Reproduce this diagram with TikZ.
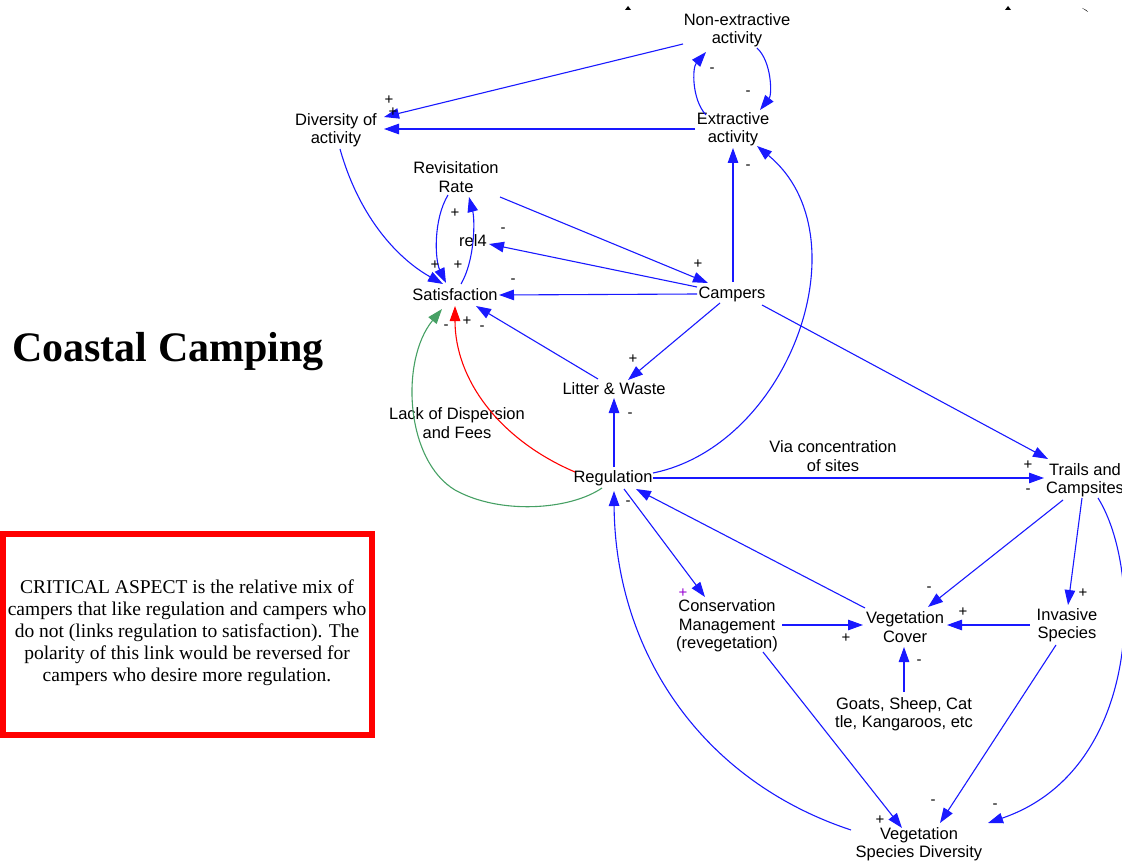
\documentclass[tikz,border=0pt]{standalone}
\usepackage{fontspec}
\setmainfont{Liberation Sans}
\newfontfamily\serifm{Liberation Serif}
\usetikzlibrary{arrows.meta}
\definecolor{lnkblue}{RGB}{25,25,255}
\definecolor{grnl}{RGB}{70,160,100}
\definecolor{purp}{RGB}{150,0,210}
\begin{document}
\begin{tikzpicture}[x=1pt,y=-1pt,
  lbl/.style={font=\fontsize{16.5}{18.5}\selectfont, align=center, inner sep=0pt, text=black},
  sgn/.style={font=\fontsize{15}{15}\selectfont, inner sep=0pt},
  lnk/.style={draw=lnkblue, line width=1.1pt, -{Triangle[length=15pt,width=10.5pt]}},
  rdl/.style={lnk, draw=red},
  gnl/.style={lnk, draw=grnl}]
\useasboundingbox (0,0) rectangle (1122,861);

% nodes
\node[lbl] (nonext) at (737,30) {Non-extractive\\activity};
\node[lbl] (ext) at (733,129) {Extractive\\activity};
\node[lbl] (div) at (336,130) {Diversity of\\activity};
\node[lbl] (rev) at (456,177) {Revisitation\\Rate};
\node[lbl] (rel) at (473,241) {rel4};
\node[lbl] (sat) at (455,295) {Satisfaction};
\node[lbl] (camp) at (732,294) {Campers};
\node[lbl] (litter) at (614,389) {Litter \& Waste};
\node[lbl] (reg) at (613,478) {Regulation};
\node[lbl] (lack) at (457,423) {Lack of Dispersion\\and Fees};
\node[lbl] (via) at (833,456) {Via concentration\\of sites};
\node[lbl] (trails) at (1085,480) {Trails and\\Campsites};
\node[lbl] (cons) at (727,626) {Conservation\\Management\\(revegetation)};
\node[lbl] (vegc) at (905,627) {Vegetation\\Cover};
\node[lbl] (inv) at (1067,625) {Invasive\\Species};
\node[lbl] (goats) at (904,714) {Goats, Sheep, Cat\\tle, Kangaroos, etc};
\node[lbl] (vsd) at (919,844) {Vegetation\\Species Diversity};

\node[font=\serifm\bfseries\fontsize{42}{42}\selectfont, inner sep=0pt] (title) at (168,352) {Coastal Camping};
\node[draw=red, line width=6pt, minimum width=369pt, minimum height=201pt, inner sep=0pt] (box) at (187.5,634.5) {};
\node[font=\serifm\fontsize{19.5}{22}\selectfont, align=center, inner sep=0pt] (crit) at (187,633) {CRITICAL ASPECT is the relative mix of\\campers that like regulation and campers who\\do not (links regulation to satisfaction). The\\polarity of this link would be reversed for\\campers who desire more regulation.};

% small marks at top edge
\fill (625,10) -- (628,6) -- (631,10) -- cycle;
\fill (1005,10) -- (1008,6) -- (1011,10) -- cycle;
\fill (1082,8) -- (1086,10) -- (1088,12) -- cycle;

% connectors
\draw[lnk] ([shift={(-54,14)}]nonext.center) -- ([shift={(48,-13)}]div.center);
\draw[lnk] ([shift={(-38,0)}]ext.center) -- ([shift={(48,-1)}]div.center);
\draw[lnk] ([shift={(-27,-14)}]ext.center) .. controls (692,100) and (692,68) .. ([shift={(-31,22)}]nonext.center);
\draw[lnk] ([shift={(20,18)}]nonext.center) .. controls (772,62) and (772,95) .. ([shift={(27,-19)}]ext.center);
\draw[lnk] ([shift={(1,-12)}]camp.center) -- ([shift={(0,19)}]ext.center);
\draw[lnk] ([shift={(40,-5)}]reg.center) .. controls (790,445) and (865,235) .. ([shift={(24,17)}]ext.center);
\draw[lnk] ([shift={(4,19)}]div.center) .. controls (360,220) and (400,260) .. ([shift={(-12,-11)}]sat.center);
\draw[lnk] ([shift={(-8,18)}]rev.center) .. controls (433,220) and (435,260) .. ([shift={(-9,-12)}]sat.center);
\draw[lnk] ([shift={(6,-11)}]sat.center) .. controls (475,260) and (475,220) .. ([shift={(13,20)}]rev.center);
\draw[lnk] ([shift={(-35,-7)}]camp.center) -- ([shift={(16,3)}]rel.center);
\draw[lnk] ([shift={(44,20)}]rev.center) -- ([shift={(-24,-11)}]camp.center);
\draw[lnk] ([shift={(-35,0)}]camp.center) -- ([shift={(44,0)}]sat.center);
\draw[lnk] ([shift={(-16,-10)}]litter.center) -- ([shift={(21,11)}]sat.center);
\draw[lnk] ([shift={(-12,9)}]camp.center) -- ([shift={(14,-9)}]litter.center);
\draw[lnk] ([shift={(1,-11)}]reg.center) -- ([shift={(0,9)}]litter.center);
\draw[rdl] ([shift={(-38,-6)}]reg.center) .. controls (500,440) and (455,380) .. ([shift={(0,11)}]sat.center);
\draw[gnl] ([shift={(-11,10)}]reg.center) .. controls (570,510) and (500,515) .. (455,490) .. controls (405,460) and (400,360) .. ([shift={(-13,14)}]sat.center);
\draw[lnk] ([shift={(40,0)}]reg.center) -- ([shift={(-41,-2)}]trails.center);
\draw[lnk] ([shift={(30,11)}]camp.center) -- ([shift={(-37,-21)}]trails.center);
\draw[lnk] ([shift={(-40,-19)}]vegc.center) -- ([shift={(23,11)}]reg.center);
\draw[lnk] ([shift={(11,11)}]reg.center) -- ([shift={(-22,-29)}]cons.center);
\draw[lnk] ([shift={(55,-1)}]cons.center) -- ([shift={(-42,-2)}]vegc.center);
\draw[lnk] ([shift={(-22,20)}]trails.center) -- ([shift={(23,-20)}]vegc.center);
\draw[lnk] ([shift={(-3,18)}]trails.center) -- ([shift={(1,-20)}]inv.center);
\draw[lnk] ([shift={(-37,0)}]inv.center) -- ([shift={(42,-2)}]vegc.center);
\draw[lnk] ([shift={(0,-22)}]goats.center) -- ([shift={(-1,20)}]vegc.center);
\draw[lnk] ([shift={(13,18)}]trails.center) .. controls (1143,570) and (1143,770) .. ([shift={(69,-21)}]vsd.center);
\draw[lnk] ([shift={(-11,20)}]inv.center) -- ([shift={(21,-21)}]vsd.center);
\draw[lnk] ([shift={(36,26)}]cons.center) -- ([shift={(-17,-16)}]vsd.center);
\draw[lnk] ([shift={(-68,-14)}]vsd.center) .. controls (700,780) and (615,650) .. ([shift={(1,13)}]reg.center);

% polarity signs
\node[sgn] (s1) at (389,100) {+};
\node[sgn] (s2) at (393,112) {+};
\node[sgn] (s3) at (712,70) {-};
\node[sgn] (s4) at (748,93) {-};
\node[sgn] (s5) at (748,167) {-};
\node[sgn] (s6) at (455,213) {+};
\node[sgn] (s7) at (435,265) {+};
\node[sgn] (s8) at (458,265) {+};
\node[sgn] (s9) at (503,230) {-};
\node[sgn] (s10) at (698,264) {+};
\node[sgn] (s11) at (513,281) {-};
\node[sgn] (s12) at (446,327) {-};
\node[sgn] (s13) at (467,321) {+};
\node[sgn] (s14) at (482,328) {-};
\node[sgn] (s15) at (633,359) {+};
\node[sgn] (s16) at (630,415) {-};
\node[sgn] (s17) at (1028,465) {+};
\node[sgn] (s18) at (1028,491) {-};
\node[sgn] (s19) at (628,503) {-};
\node[sgn, text=purp] (s20) at (683,593) {+};
\node[sgn] (s21) at (846,638) {+};
\node[sgn] (s22) at (929,589) {-};
\node[sgn] (s23) at (963,612) {+};
\node[sgn] (s24) at (1083,593) {+};
\node[sgn] (s25) at (919,662) {-};
\node[sgn] (s26) at (995,806) {-};
\node[sgn] (s27) at (933,802) {-};
\node[sgn] (s28) at (880,820) {+};
\end{tikzpicture}
\end{document}
